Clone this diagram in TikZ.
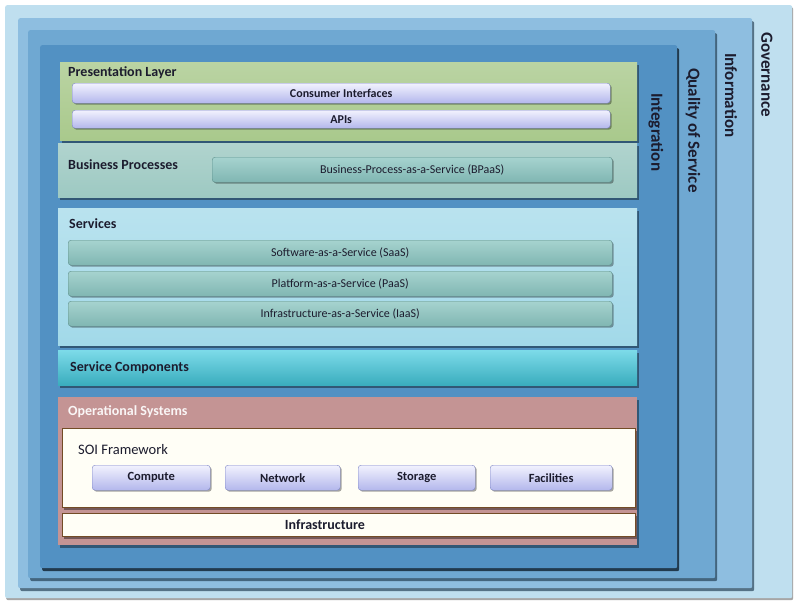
\documentclass[tikz,border=0pt]{standalone}
\usepackage{fontspec}
\setmainfont{Carlito}
\usetikzlibrary{shadows}

\definecolor{ink}{HTML}{1C1C2E}
\definecolor{govblue}{HTML}{BFDFEF}
\definecolor{infoblue}{HTML}{8EBEE0}
\definecolor{qosblue}{HTML}{6FA8D2}
\definecolor{integblue}{HTML}{5291C3}
\definecolor{presgreen}{HTML}{A9C98C}
\definecolor{bizteal}{HTML}{9DC9C2}
\definecolor{svccyan}{HTML}{A2D9E9}
\definecolor{compcyan}{HTML}{44CBDF}
\definecolor{opspink}{HTML}{C49494}
\definecolor{ivory}{HTML}{FFFEF6}
\definecolor{lavtop}{HTML}{F2F2FE}
\definecolor{lavbot}{HTML}{B3B7EC}
\definecolor{lavedge}{HTML}{7E86C6}
\definecolor{tealtop}{HTML}{A6D3CF}
\definecolor{tealbot}{HTML}{80B6B2}
\definecolor{tealedge}{HTML}{5E908C}

\tikzset{
  frame/.style={anchor=north west, inner sep=0pt, rounded corners=2pt},
  framelabel/.style={rotate=-90, anchor=west, inner sep=0pt, text=ink,
    font=\fontsize{17}{19}\selectfont\bfseries},
  panel/.style={anchor=north west, inner sep=0pt,
    drop shadow={shadow xshift=2pt, shadow yshift=-3pt, opacity=.4, fill=black}},
  paneltitle/.style={anchor=west, inner sep=0pt, text=ink,
    font=\fontsize{14}{16}\selectfont\bfseries},
  bar/.style={anchor=north west, inner sep=0pt, rounded corners=3pt, text=ink,
    font=\fontsize{12}{14}\selectfont,
    drop shadow={shadow xshift=1.5pt, shadow yshift=-1.5pt, opacity=.35, fill=black}},
  lavbar/.style={bar, top color=lavtop, bottom color=lavbot, draw=lavedge,
    font=\fontsize{12}{14}\selectfont\bfseries},
  tealbar/.style={bar, top color=tealtop, bottom color=tealbot, draw=tealedge},
  unitbox/.style={lavbar, font=\fontsize{12.5}{14}\selectfont\bfseries,
    minimum height=25pt},
}

\begin{document}
\begin{tikzpicture}[x=1pt, y=-1pt]
  \useasboundingbox[fill=white] (0,0) rectangle (800,608);

  % nested frames
  \node[frame, fill=govblue, minimum width=787pt, minimum height=593pt,
    drop shadow={shadow xshift=1pt, shadow yshift=-2pt, fill=gray!70, opacity=1}] (gov) at (5,5) {};
  \node[frame, fill=infoblue, minimum width=734pt, minimum height=570pt,
    drop shadow={shadow xshift=2pt, shadow yshift=-3pt, fill=infoblue!60!black, opacity=1}] (info) at (18,18) {};
  \node[frame, fill=qosblue, minimum width=687pt, minimum height=548pt,
    drop shadow={shadow xshift=2pt, shadow yshift=-3pt, fill=qosblue!60!black, opacity=1}] (qos) at (28,30) {};
  \node[frame, fill=integblue, minimum width=637pt, minimum height=523pt,
    drop shadow={shadow xshift=2pt, shadow yshift=-3pt, fill=integblue!40!black, opacity=1}] (integ) at (40,45) {};

  \node[framelabel] (govlbl) at (767,32) {Governance};
  \node[framelabel] (infolbl) at (731,53) {Information};
  \node[framelabel] (qoslbl) at (693,68) {Quality of Service};
  \node[framelabel] (integlbl) at (656,93) {Integration};

  % presentation layer
  \node[panel, top color=presgreen!80!white, bottom color=presgreen,
    minimum width=577pt, minimum height=78pt] (pres) at (60,62) {};
  \node[paneltitle] (prestitle) at (68,73) {Presentation Layer};
  \node[lavbar, minimum width=538pt, minimum height=20pt] (consumer) at (72,83) {Consumer Interfaces};
  \node[lavbar, minimum width=538pt, minimum height=18pt] (apis) at (72,110) {APIs};

  % business processes
  \node[panel, top color=bizteal!80!white, bottom color=bizteal,
    minimum width=579pt, minimum height=54pt] (biz) at (58,143) {};
  \node[paneltitle] (biztitle) at (68,165) {Business Processes};
  \node[tealbar, minimum width=400pt, minimum height=25pt] (bpaas) at (212,157)
    {Business-Process-as-a-Service (BPaaS)};

  % services
  \node[panel, top color=svccyan!75!white, bottom color=svccyan,
    minimum width=579pt, minimum height=137pt] (svc) at (58,208) {};
  \node[paneltitle] (svctitle) at (69,224) {Services};
  \foreach \nm/\y/\txt in {saas/240/Software-as-a-Service (SaaS),
      paas/271/Platform-as-a-Service (PaaS),
      iaas/301/Infrastructure-as-a-Service (IaaS)} {
    \node[tealbar, minimum width=544pt, minimum height=25pt] (\nm) at (68,\y) {\txt};
  }

  % service components
  \node[panel, top color=compcyan!70!white, bottom color=compcyan!85!black,
    minimum width=579pt, minimum height=35pt] (comp) at (58,350) {};
  \node[paneltitle] (comptitle) at (70,368) {Service Components};

  % operational systems
  \node[panel, fill=opspink, minimum width=579pt, minimum height=148pt] (ops) at (58,397) {};
  \node[paneltitle, text=white!92!opspink] (opstitle) at (68,412) {Operational Systems};
  \node[panel, fill=ivory, draw=brown!60!black, minimum width=573pt, minimum height=79pt] (soi) at (62,428) {};
  \node[paneltitle, font=\fontsize{14.5}{16}\selectfont] (soititle) at (78,450) {SOI Framework};
  \foreach \nm/\x/\w/\txt in {compute/92/118/Compute, network/225/115/Network,
      storage/358/117/Storage, facilities/490/122/Facilities} {
    \node[unitbox, minimum width=\w pt] (\nm) at (\x,465) {\txt};
  }
  \node[panel, fill=ivory, draw=brown!60!black, minimum width=573pt, minimum height=23pt] (infra) at (62,513) {};
  \node[paneltitle, anchor=center] (infralbl) at (325,525) {Infrastructure};
\end{tikzpicture}
\end{document}
